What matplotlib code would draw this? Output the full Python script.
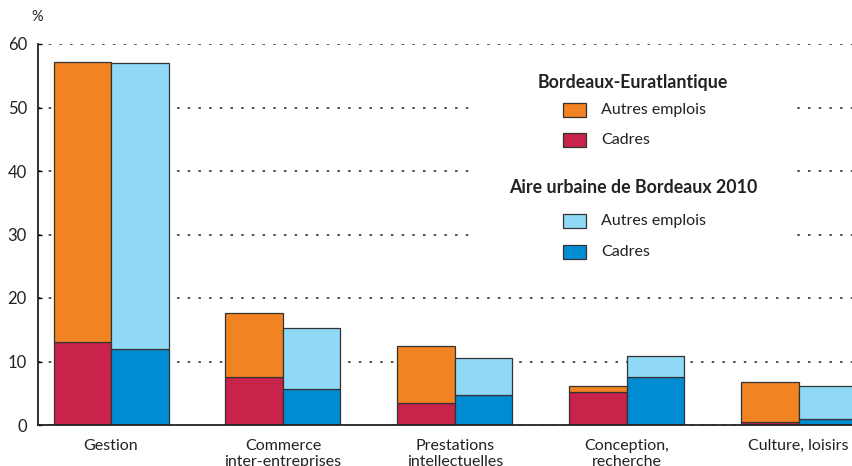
import numpy as np
import matplotlib
matplotlib.use("Agg")
from matplotlib import pyplot as plt
from matplotlib.patches import Rectangle

# Parts of employment by function (%)
categories = ["Gestion", "Commerce\ninter-entreprises", "Prestations\nintellectuelles",
              "Conception,\nrecherche", "Culture, loisirs"]
eur_cadres = [13.0, 7.5, 3.4, 5.2, 0.4]
eur_autres = [44.2, 10.1, 9.0, 0.9, 6.4]
bx_cadres = [11.9, 5.6, 4.7, 7.6, 0.9]
bx_autres = [45.1, 9.7, 5.9, 3.2, 5.3]

c_orange = "#f28322"
c_red = "#c8234a"
c_lblue = "#8fd8f6"
c_blue = "#008cd3"
edge = "#333333"

plt.rcParams["font.family"] = ["Lato", "DejaVu Sans"]
plt.rcParams["lines.scale_dashes"] = False

W, H = 852, 466
fig = plt.figure(figsize=(W / 100, H / 100), dpi=100)
ax = fig.add_axes([38 / W, 1 - 425 / H, 1 - 38 / W, (425 - 44) / H])

x = np.arange(len(categories))
w = 0.3345
kw = dict(width=w, edgecolor=edge, linewidth=0.9, zorder=3, align="edge")
ax.bar(x - w, eur_cadres, color=c_red, **kw)
ax.bar(x - w, eur_autres, bottom=eur_cadres, color=c_orange, **kw)
ax.bar(x, bx_cadres, color=c_blue, **kw)
ax.bar(x, bx_autres, bottom=bx_cadres, color=c_lblue, **kw)

ax.set_ylim(0, 60)
ax.set_xlim(-0.425, 4.31)
ax.set_yticks(range(0, 61, 10))
ax.set_xticks(x)
ax.set_xticklabels(categories, fontsize=11.5, color="#222222", linespacing=1.15)
ax.tick_params(axis="x", length=0, pad=10)
ax.tick_params(axis="y", direction="in", length=3, width=1, pad=8, labelsize=12,
               labelcolor="#222222")
ax.yaxis.grid(True, color="#444444", linewidth=1.3, linestyle=(0, (1.8, 5.9)), zorder=0)
ax.set_axisbelow(True)
for s in ["top", "right"]:
    ax.spines[s].set_visible(False)
for s in ["left", "bottom"]:
    ax.spines[s].set_linewidth(1.3)
    ax.spines[s].set_color("#222222")
    ax.spines[s].set_zorder(4)

# white box behind the legend
ax.add_patch(Rectangle((473 / W, 1 - 275 / H), (797 - 473) / W, 210 / H,
                       transform=fig.transFigure, facecolor="white", edgecolor="none",
                       zorder=1))

fig.text(37 / W, 1 - 17 / H, "%", fontsize=10.5, ha="center", va="center", color="#222222")

# legend
def px(xp, yp):
    return xp / W, 1 - yp / H

fig.text(*px(633, 83), "Bordeaux-Euratlantique", fontsize=12.8, fontweight="bold",
         ha="center", va="center", color="#222222")
fig.text(*px(633, 188), "Aire urbaine de Bordeaux 2010", fontsize=12.8, fontweight="bold",
         ha="center", va="center", color="#222222")
items = [(110, c_orange, "Autres emplois"), (140, c_red, "Cadres"),
         (221, c_lblue, "Autres emplois"), (252, c_blue, "Cadres")]
for yp, col, lab in items:
    fig.patches.append(Rectangle(px(563, yp + 7), 23 / W, 14 / H, transform=fig.transFigure,
                                 facecolor=col, edgecolor=edge, linewidth=0.9, zorder=5))
    fig.text(*px(601, yp), lab, fontsize=11.5, ha="left", va="center", color="#222222")

fig.savefig("out.png", dpi=100)
